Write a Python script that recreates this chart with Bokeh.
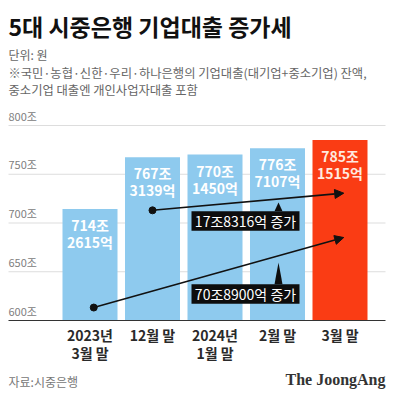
from bokeh.plotting import figure
from bokeh.models import ColumnDataSource, Label, Arrow, NormalHead, Range1d
from bokeh.core.properties import value
from bokeh.embed import file_html
from bokeh.resources import INLINE

# ---- data ----
categories = ["2023년\n3월 말", "12월 말", "2024년\n1월 말", "2월 말", "3월 말"]
values_jo = [714.2615, 767.3139, 770.1450, 776.7107, 785.1515]
value_labels = ["714조\n2615억", "767조\n3139억", "770조\n1450억", "776조\n7107억", "785조\n1515억"]
bar_colors = ["#8ecaee", "#8ecaee", "#8ecaee", "#8ecaee", "#fa3c14"]
label_colors = ["#ffffff", "#ffffff", "#ffffff", "#ffffff", "#ffe9df"]
y_ticks = [600, 650, 700, 750, 800]
y_tick_labels = ["600조", "650조", "700조", "750조", "800조"]
# increase callouts: start (x, y) -> end (x, y), and text
arrow_x0 = [1.0, 0.06]
arrow_y0 = [713.0, 613.3]
arrow_x1 = [4.06, 4.06]
arrow_y1 = [730.6, 685.1]
callout_texts = ["17조8316억 증가", "70조8900억 증가"]
callout_y = [702.0, 627.2]
pointer_tip_y = [721.0, 659.5]

KR = "Noto Sans CJK KR"
W, H = 401, 393
PX_X = 62.5          # pixels per category unit
PX_Y = 0.975         # pixels per 조
X0 = -89.5 / PX_X
Y_TOP = 600 + 320 / PX_Y
Y_BOTTOM = Y_TOP - H / PX_Y

def px(x):   # canvas px from left -> data x
    return X0 + x / PX_X

def py(y):   # canvas px from top -> data y
    return Y_TOP - y / PX_Y

p = figure(width=W, height=H, output_backend="svg", toolbar_location=None,
           x_range=Range1d(X0, X0 + W / PX_X), y_range=Range1d(Y_BOTTOM, Y_TOP),
           min_border=0, outline_line_color=None)
p.axis.visible = False
p.grid.visible = False
p.background_fill_color = "white"
p.border_fill_color = "white"

xs = list(range(len(categories)))

# gridlines
p.segment(x0=[px(8)] * 4, x1=[px(385)] * 4, y0=y_ticks[1:], y1=y_ticks[1:],
          line_color="#dddddd", line_width=1)
# bars
src = ColumnDataSource(dict(x=xs, top=values_jo, color=bar_colors,
                            lab=value_labels, lc=label_colors, cat=categories))
p.vbar(x="x", top="top", bottom=600, width=0.88,
       fill_color="color", line_color=None, source=src)
# baseline
p.segment(x0=[px(8)], x1=[px(385)], y0=[600], y1=[600], line_color="#333333", line_width=1.2)

# y tick labels
p.text(x=[px(8)] * 5, y=y_ticks, text=y_tick_labels, text_font=value(KR),
       text_font_size="11px", text_color="#808080", text_baseline="bottom",
       text_align="left", y_offset=-2)

# value labels
p.text(x="x", y="top", text="lab", source=src, text_font=value(KR),
       text_font_style="bold", text_font_size="14px", text_color="lc",
       text_align="center", text_baseline="top", y_offset=6, text_line_height=0.85)

# x labels
p.text(x="x", y=py(324), text="cat", source=src, text_font=value(KR),
       text_font_style="bold", text_font_size="14px", text_color="#2a2a2a",
       text_align="center", text_baseline="top", text_line_height=0.9)

# arrows
for i in range(2):
    p.add_layout(Arrow(end=NormalHead(size=9, fill_color="#111111", line_color="#111111"),
                       x_start=arrow_x0[i], y_start=arrow_y0[i],
                       x_end=arrow_x1[i], y_end=arrow_y1[i],
                       line_color="#111111", line_width=1.6))
p.scatter(x=arrow_x0, y=arrow_y0, size=7, color="#111111")

# callouts
box_cx = (px(191) + px(299)) / 2
box_w = px(299) - px(191)
box_h = 20.0
p.rect(x=[box_cx] * 2, y=callout_y, width=box_w, height=box_h,
       fill_color="#0d0d0d", line_color=None)
tip_x = px(278)
half = 4 / PX_X
p.patches(xs=[[tip_x - half, tip_x, tip_x + half]] * 2,
          ys=[[callout_y[i] + box_h / 2, pointer_tip_y[i], callout_y[i] + box_h / 2] for i in range(2)],
          fill_color="#0d0d0d", line_color=None)
p.text(x=[box_cx] * 2, y=callout_y, text=callout_texts, text_font=value(KR),
       text_font_size="14px", text_color="white", text_align="center",
       text_baseline="middle")

# titles and notes
def add_label(x, y, text, size, color, style="normal", font=KR, align="left"):
    p.add_layout(Label(x=px(x), y=py(y), text=text, text_font=font,
                       text_font_size=size, text_color=color, text_font_style=style,
                       text_baseline="top", text_align=align))

add_label(8, 8, "5대 시중은행 기업대출 증가세", "23px", "#111111", "bold")
add_label(8, 45, "단위: 원", "12px", "#666666")
add_label(8, 63, "※국민·농협·신한·우리·하나은행의 기업대출(대기업+중소기업) 잔액,", "12.3px", "#666666")
add_label(8, 80, "중소기업 대출엔 개인사업자대출 포함", "12.3px", "#666666")
add_label(8, 372, "자료:시중은행", "12px", "#777777")
add_label(385, 370, "The JoongAng", "16px", "#333333", "bold", "Liberation Serif", "right")

open("out.html", "w").write(file_html(p, INLINE))
